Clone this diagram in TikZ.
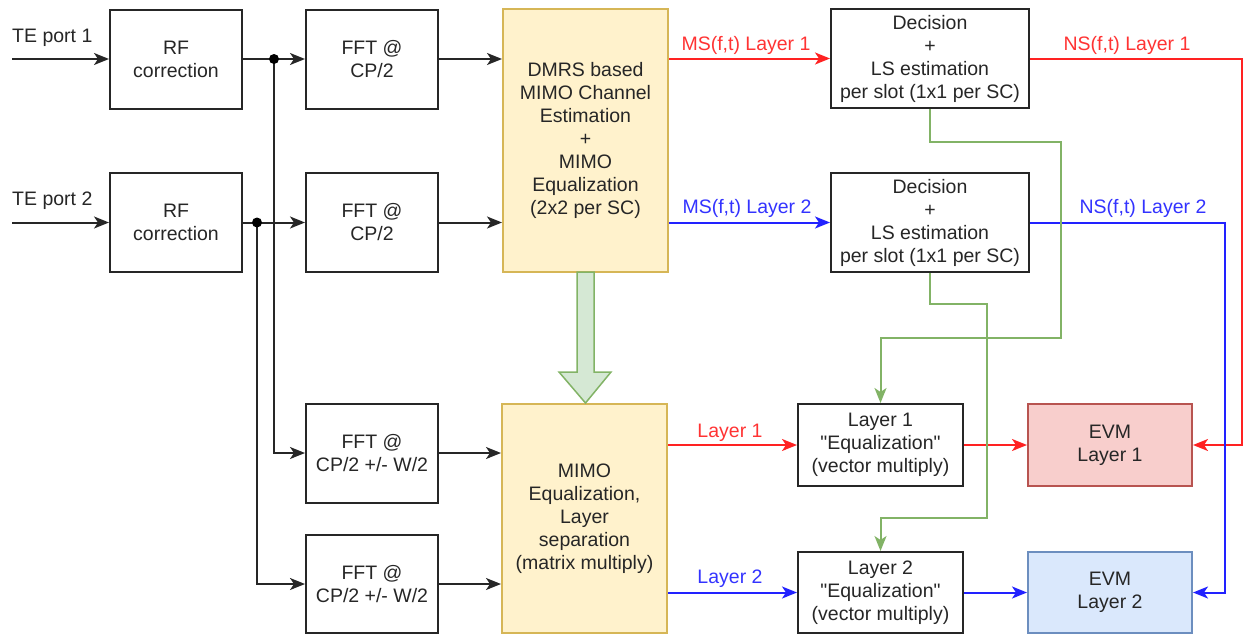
\documentclass[tikz,border=0pt]{standalone}
\usepackage{fontspec}
\newfontfamily\lsans{Liberation Sans}
\usetikzlibrary{arrows.meta,calc}
\definecolor{txt}{HTML}{262626}
\definecolor{lred}{HTML}{FF2222}
\definecolor{lblue}{HTML}{2222FF}
\definecolor{tred}{HTML}{FF3333}
\definecolor{tblue}{HTML}{3333FF}
\definecolor{lgreen}{HTML}{82B366}
\definecolor{gfill}{HTML}{D5E8D4}
\definecolor{yfill}{HTML}{FFF2CC}
\definecolor{yline}{HTML}{D6B656}
\definecolor{rfill}{HTML}{F8CECC}
\definecolor{rline}{HTML}{B85450}
\definecolor{bfill}{HTML}{DAE8FC}
\definecolor{bline}{HTML}{6C8EBF}
\begin{document}
\begin{tikzpicture}[x=1pt,y=-1pt,
  every node/.style={font=\lsans\fontsize{19.5}{23}\selectfont, text=txt},
  blk/.style={draw=black!85, line width=2pt, fill=white, align=center, inner sep=0pt},
  ybox/.style={draw=yline, line width=2pt, fill=yfill, align=center, inner sep=0pt},
  conn/.style={line width=2pt, -{Stealth[length=15pt,width=12pt,inset=4pt]}},
  bl/.style={conn, draw=black!85, color=black!85},
  rd/.style={conn, draw=lred, color=lred},
  bu/.style={conn, draw=lblue, color=lblue},
  gr/.style={conn, draw=lgreen, color=lgreen},
  lab/.style={anchor=base, inner sep=0pt},
  dot/.style={circle, fill=black, inner sep=0pt, minimum size=10pt}
]
\useasboundingbox (0,0) rectangle (1245,637);

% boxes
\node[blk, minimum width=132pt, minimum height=99pt] (rf1) at (176,59) {RF\\correction};
\node[blk, minimum width=132pt, minimum height=99pt] (rf2) at (176,222.5) {RF\\correction};
\node[blk, minimum width=132pt, minimum height=99pt] (fft1) at (372,59) {FFT @\\CP/2};
\node[blk, minimum width=132pt, minimum height=99pt] (fft2) at (372,222.5) {FFT @\\CP/2};
\node[blk, minimum width=132pt, minimum height=99pt] (fft3) at (372,453) {FFT @\\CP/2 +/- W/2};
\node[blk, minimum width=132pt, minimum height=98pt] (fft4) at (372,584) {FFT @\\CP/2 +/- W/2};
\node[ybox, minimum width=165pt, minimum height=263pt] (dmrs) at (585.5,140.5) {DMRS based\\MIMO Channel\\Estimation\\+\\MIMO\\Equalization\\(2x2 per SC)};
\node[ybox, minimum width=165pt, minimum height=229pt] (mimo) at (584.5,518.5) {MIMO\\Equalization,\\Layer\\separation\\(matrix multiply)};
\node[blk, minimum width=198pt, minimum height=99pt] (dec1) at (930,58.5) {Decision\\+\\LS estimation\\per slot (1x1 per SC)};
\node[blk, minimum width=198pt, minimum height=99pt] (dec2) at (930,222.5) {Decision\\+\\LS estimation\\per slot (1x1 per SC)};
\node[blk, minimum width=165pt, minimum height=82pt] (eq1) at (880.5,445) {Layer 1\\"Equalization"\\(vector multiply)};
\node[blk, minimum width=165pt, minimum height=81pt] (eq2) at (880.5,592.5) {Layer 2\\"Equalization"\\(vector multiply)};
\node[blk, draw=rline, fill=rfill, minimum width=164pt, minimum height=82pt] (evm1) at (1110,445) {EVM\\Layer 1};
\node[blk, draw=bline, fill=bfill, minimum width=164pt, minimum height=81pt] (evm2) at (1110,592.5) {EVM\\Layer 2};

% inputs
\coordinate (in1) at (12,59);
\coordinate (in2) at (12,222.5);
\node[lab, anchor=base west] (te1) at (12,42) {TE port 1};
\node[lab, anchor=base west] (te2) at (12,205.5) {TE port 2};
\draw[bl] (in1) -- (rf1.west);
\draw[bl] (in2) -- (rf2.west);

% junctions
\coordinate (j1) at (274,59);
\coordinate (j2) at (257,222.5);
\draw[bl] (rf1.east) -- (fft1.west);
\draw[bl] (rf2.east) -- (fft2.west);
\draw[bl] (j1) |- (fft3.west);
\draw[bl] (j2) |- (fft4.west);
\node[dot] (d1) at (j1) {};
\node[dot] (d2) at (j2) {};

% to channel boxes
\draw[bl] (fft1.east) -- (fft1.east -| dmrs.west);
\draw[bl] (fft2.east) -- (fft2.east -| dmrs.west);
\draw[bl] (fft3.east) -- (fft3.east -| mimo.west);
\draw[bl] (fft4.east) -- (fft4.east -| mimo.west);

% big green arrow
\draw[draw=lgreen, fill=gfill, line width=1.5pt, line join=miter]
  (577,272) -- (577,372) -- (559,372) -- (585.5,403) -- (611,372) -- (594,372) -- (594,272) -- cycle;

% MS lines
\draw[rd] (dec1.west -| dmrs.east) -- (dec1.west);
\draw[bu] (dec2.west -| dmrs.east) -- (dec2.west);
\node[lab, text=tred] (ms1) at (746,50) {MS(f,t) Layer 1};
\node[lab, text=tblue] (ms2) at (747,213.5) {MS(f,t) Layer 2};

% NS lines
\coordinate (ns1a) at (1242,58.5);
\coordinate (ns2a) at (1225,222.5);
\draw[rd] (dec1.east) -- (ns1a) |- (evm1.east);
\draw[bu] (dec2.east) -- (ns2a) |- (evm2.east);
\node[lab, text=tred] (ns1) at (1127,50) {NS(f,t) Layer 1};
\node[lab, text=tblue] (ns2) at (1143,213.5) {NS(f,t) Layer 2};

% Layer lines
\draw[rd] (eq1.west -| mimo.east) -- (eq1.west);
\draw[bu] (eq2.west -| mimo.east) -- (eq2.west);
\node[lab, text=tred] (l1) at (730,437) {Layer 1};
\node[lab, text=tblue] (l2) at (730,583) {Layer 2};
\draw[rd] (eq1.east) -- (evm1.west);
\draw[bu] (eq2.east) -- (evm2.west);

% green feedback
\coordinate (g1a) at (930,142);
\coordinate (g1b) at (1061,142);
\coordinate (g1c) at (1061,338);
\coordinate (g1d) at (880.5,338);
\draw[gr] (dec1.south) -- (g1a) -- (g1b) -- (g1c) -- (g1d) -- (eq1.north);
\coordinate (g2a) at (930,304);
\coordinate (g2b) at (987,304);
\coordinate (g2c) at (987,518);
\coordinate (g2d) at (880.5,518);
\draw[gr] (dec2.south) -- (g2a) -- (g2b) -- (g2c) -- (g2d) -- (eq2.north);
\end{tikzpicture}
\end{document}
